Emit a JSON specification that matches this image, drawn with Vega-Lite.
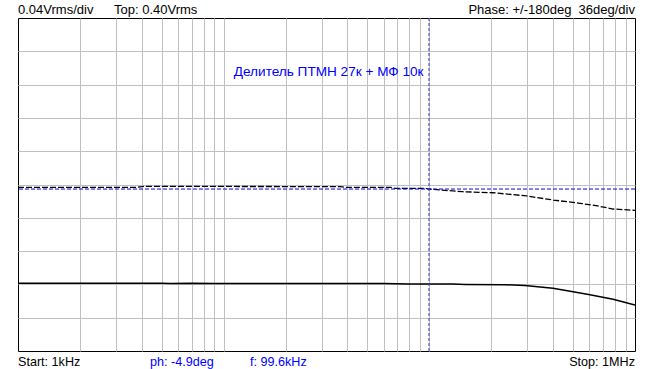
{
  "$schema": "https://vega.github.io/schema/vega-lite/v6.json",
  "width": 617,
  "height": 333,
  "autosize": "none",
  "padding": {"left": 18, "top": 18, "right": 18, "bottom": 18},
  "background": "white",
  "config": {
    "view": {"stroke": "black", "strokeWidth": 1},
    "text": {"font": "Liberation Sans", "fontSize": 13}
  },
  "datasets": {
    "amp": [
      {"f": 1000, "v": 0.0815},
      {"f": 5000, "v": 0.0815},
      {"f": 5500, "v": 0.081},
      {"f": 7000, "v": 0.0813},
      {"f": 9000, "v": 0.081},
      {"f": 30000, "v": 0.081},
      {"f": 60000, "v": 0.081},
      {"f": 80000, "v": 0.0806},
      {"f": 100000, "v": 0.0805},
      {"f": 130000, "v": 0.0804},
      {"f": 150000, "v": 0.08},
      {"f": 233000, "v": 0.0796},
      {"f": 292000, "v": 0.0786},
      {"f": 399000, "v": 0.0753},
      {"f": 500000, "v": 0.0712},
      {"f": 604000, "v": 0.0676},
      {"f": 782000, "v": 0.0621},
      {"f": 1000000, "v": 0.0553}
    ],
    "phase": [
      {"f": 1000, "deg": -3.0},
      {"f": 3800, "deg": -3.0},
      {"f": 4100, "deg": -2.0},
      {"f": 20000, "deg": -2.2},
      {"f": 37000, "deg": -2.3},
      {"f": 39000, "deg": -3.0},
      {"f": 65000, "deg": -3.0},
      {"f": 68000, "deg": -4.1},
      {"f": 95000, "deg": -4.1},
      {"f": 99600, "deg": -4.9},
      {"f": 145000, "deg": -7.8},
      {"f": 204000, "deg": -8.9},
      {"f": 298000, "deg": -12.4},
      {"f": 400000, "deg": -16.8},
      {"f": 540000, "deg": -20.3},
      {"f": 658000, "deg": -23.2},
      {"f": 782000, "deg": -26.5},
      {"f": 1000000, "deg": -27.9}
    ],
    "one": [{}]
  },
  "resolve": {"scale": {"y": "independent"}},
  "layer": [
    {
      "data": {"name": "amp"},
      "mark": {"type": "line", "color": "black", "strokeWidth": 1.5, "clip": true},
      "encoding": {
        "x": {
          "field": "f", "type": "quantitative",
          "scale": {"type": "log", "domain": [1000, 1000000], "nice": false},
          "axis": {
            "values": [2000, 3000, 4000, 5000, 6000, 7000, 8000, 9000, 10000, 20000, 30000, 40000, 50000, 60000, 70000, 80000, 90000, 100000, 200000, 300000, 400000, 500000, 600000, 700000, 800000, 900000],
            "grid": true, "gridColor": "#c0c0c0", "gridOpacity": 1, "gridWidth": 1,
            "labels": false, "ticks": false, "domain": false, "title": null
          }
        },
        "y": {
          "field": "v", "type": "quantitative",
          "scale": {"domain": [0, 0.4], "nice": false, "zero": false},
          "axis": {
            "values": [0.04, 0.08, 0.12, 0.16, 0.2, 0.24, 0.28, 0.32, 0.36],
            "grid": true, "gridColor": "#c0c0c0", "gridOpacity": 1, "gridWidth": 1,
            "labels": false, "ticks": false, "domain": false, "title": null
          }
        }
      }
    },
    {
      "data": {"name": "phase"},
      "mark": {"type": "line", "color": "black", "strokeWidth": 1.3, "strokeDash": [6, 2], "clip": true},
      "encoding": {
        "x": {"field": "f", "type": "quantitative"},
        "y": {"field": "deg", "type": "quantitative", "scale": {"domain": [-180, 180], "nice": false, "zero": false}, "axis": null}
      }
    },
    {
      "data": {"name": "one"},
      "mark": {"type": "rule", "color": "#0000ff", "strokeWidth": 1, "strokeDash": [4, 2]},
      "encoding": {
        "y": {"datum": -4.9, "type": "quantitative", "scale": {"domain": [-180, 180], "nice": false, "zero": false}, "axis": null}
      }
    },
    {
      "data": {"name": "one"},
      "mark": {"type": "rule", "color": "#3a3ac8", "strokeWidth": 1, "strokeDash": [3, 2]},
      "encoding": {
        "x": {"datum": 99600, "type": "quantitative"}
      }
    },
    {
      "data": {"name": "one"},
      "mark": {"type": "text", "align": "left", "baseline": "alphabetic", "dy": -4, "color": "black"},
      "encoding": {
        "x": {"datum": 1000, "type": "quantitative"},
        "y": {"datum": 0.4, "type": "quantitative", "scale": {"domain": [0, 0.4], "nice": false, "zero": false}, "axis": null},
        "text": {"value": "0.04Vrms/div"}
      }
    },
    {
      "data": {"name": "one"},
      "mark": {"type": "text", "align": "left", "baseline": "alphabetic", "dy": -4, "dx": 96, "color": "black"},
      "encoding": {
        "x": {"datum": 1000, "type": "quantitative"},
        "y": {"datum": 0.4, "type": "quantitative", "scale": {"domain": [0, 0.4], "nice": false, "zero": false}, "axis": null},
        "text": {"value": "Top: 0.40Vrms"}
      }
    },
    {
      "data": {"name": "one"},
      "mark": {"type": "text", "align": "right", "baseline": "alphabetic", "dy": -4, "color": "black"},
      "encoding": {
        "x": {"datum": 1000000, "type": "quantitative"},
        "y": {"datum": 0.4, "type": "quantitative", "scale": {"domain": [0, 0.4], "nice": false, "zero": false}, "axis": null},
        "text": {"value": "Phase: +/-180deg\u00a0 36deg/div"}
      }
    },
    {
      "data": {"name": "one"},
      "mark": {"type": "text", "align": "left", "baseline": "alphabetic", "dy": 15, "fontSize": 12.6, "color": "black"},
      "encoding": {
        "x": {"datum": 1000, "type": "quantitative"},
        "y": {"datum": 0, "type": "quantitative", "scale": {"domain": [0, 0.4], "nice": false, "zero": false}, "axis": null},
        "text": {"value": "Start: 1kHz"}
      }
    },
    {
      "data": {"name": "one"},
      "mark": {"type": "text", "align": "left", "baseline": "alphabetic", "dy": 15, "dx": 132, "fontSize": 12.6, "color": "#0000ff"},
      "encoding": {
        "x": {"datum": 1000, "type": "quantitative"},
        "y": {"datum": 0, "type": "quantitative", "scale": {"domain": [0, 0.4], "nice": false, "zero": false}, "axis": null},
        "text": {"value": "ph: -4.9deg"}
      }
    },
    {
      "data": {"name": "one"},
      "mark": {"type": "text", "align": "left", "baseline": "alphabetic", "dy": 15, "dx": 232, "fontSize": 12.6, "color": "#0000ff"},
      "encoding": {
        "x": {"datum": 1000, "type": "quantitative"},
        "y": {"datum": 0, "type": "quantitative", "scale": {"domain": [0, 0.4], "nice": false, "zero": false}, "axis": null},
        "text": {"value": "f: 99.6kHz"}
      }
    },
    {
      "data": {"name": "one"},
      "mark": {"type": "text", "align": "right", "baseline": "alphabetic", "dy": 15, "fontSize": 12.6, "color": "black"},
      "encoding": {
        "x": {"datum": 1000000, "type": "quantitative"},
        "y": {"datum": 0, "type": "quantitative", "scale": {"domain": [0, 0.4], "nice": false, "zero": false}, "axis": null},
        "text": {"value": "Stop: 1MHz"}
      }
    },
    {
      "data": {"name": "one"},
      "mark": {"type": "text", "align": "center", "baseline": "alphabetic", "fontSize": 13.6, "color": "#0000ff"},
      "encoding": {
        "x": {"datum": 32400, "type": "quantitative"},
        "y": {"datum": 0.33, "type": "quantitative", "scale": {"domain": [0, 0.4], "nice": false, "zero": false}, "axis": null},
        "text": {"value": "Делитель ПТМН 27к + МФ 10к"}
      }
    }
  ]
}
